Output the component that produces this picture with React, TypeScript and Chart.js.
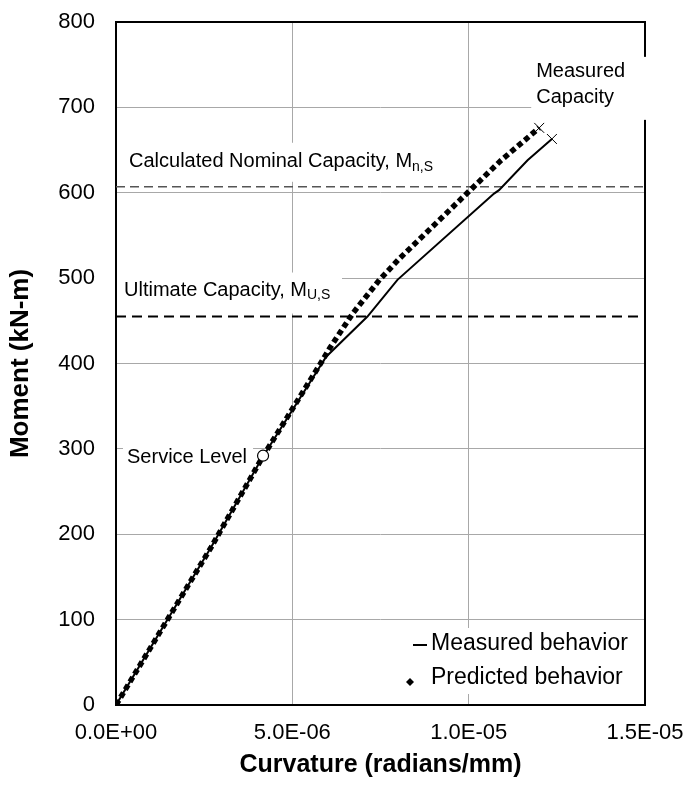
import React, { useEffect, useRef } from 'react';
import { Chart, registerables } from 'chart.js';

Chart.register(...registerables);

const FONT = '"Liberation Sans", Arial, Helvetica, sans-serif';

// ---- data ----
const measuredCurvature = [0, 2.7e-6, 4.15e-6, 5.96e-6, 7.13e-6, 7.98e-6, 10.72e-6, 10.86e-6, 11.67e-6, 12.36e-6];
const measuredMoment = [0, 185, 290, 408, 455, 498, 599, 603, 638, 663];

const predictedCurvature = [0, 2.7e-6, 4.15e-6, 5.77e-6, 6.06e-6, 6.72e-6, 7.47e-6, 8.04e-6, 10.92e-6, 12.0e-6];
const predictedMoment = [0, 185, 290, 398, 418, 459, 498, 523, 638, 676];

const capacityCurvature = [12.0e-6, 12.36e-6];
const capacityMoment = [676, 663];

const serviceCurvature = [4.17e-6];
const serviceMoment = [292];

const nominalCapacity = 607;
const ultimateCapacity = 455;

const xTicks = [0, 5e-6, 1e-5, 1.5e-5];
const xTickLabels = ['0.0E+00', '5.0E-06', '1.0E-05', '1.5E-05'];
const yTicks = [0, 100, 200, 300, 400, 500, 600, 700, 800];

const xTitle = 'Curvature (radians/mm)';
const yTitle = 'Moment (kN-m)';

const pts = (xs: number[], ys: number[]) => xs.map((v, i) => ({ x: v, y: ys[i] }));

function drawLabel(ctx: CanvasRenderingContext2D, parts: [string, string, string], x: number, yMid: number, size: number) {
  ctx.font = `${size}px ${FONT}`;
  ctx.textBaseline = 'middle';
  ctx.textAlign = 'left';
  ctx.fillStyle = '#000';
  ctx.fillText(parts[0] + parts[1], x, yMid);
  let w = ctx.measureText(parts[0] + parts[1]).width;
  if (parts[2]) {
    ctx.font = `${Math.round(size * 0.7)}px ${FONT}`;
    ctx.fillText(parts[2], x + w, yMid + 5);
    w += ctx.measureText(parts[2]).width;
  }
  return w;
}

const overlayPlugin = {
  id: 'overlay',
  beforeDatasetsDraw(chart: any) {
    const { ctx, chartArea: a, scales } = chart;
    const xs = scales.x;
    const ys = scales.y;
    ctx.save();
    // frame
    ctx.strokeStyle = '#000';
    ctx.lineWidth = 2;
    ctx.strokeRect(a.left, a.top, a.right - a.left, a.bottom - a.top);

    const size = 20;
    ctx.font = `${size}px ${FONT}`;

    // Calculated nominal capacity label
    {
      const yMid = ys.getPixelForValue(nominalCapacity) - 25;
      const x0 = a.left + 13;
      ctx.font = `${size}px ${FONT}`;
      const w = ctx.measureText('Calculated Nominal Capacity, M').width + 26;
      ctx.fillStyle = '#fff';
      ctx.fillRect(x0 - 6, yMid - 19, w + 12, 39);
      drawLabel(ctx, ['Calculated Nominal Capacity, ', 'M', 'n,S'], x0, yMid, size);
    }
    // Ultimate capacity label
    {
      const yMid = ys.getPixelForValue(ultimateCapacity) - 26;
      const x0 = a.left + 8;
      ctx.font = `${size}px ${FONT}`;
      const w = ctx.measureText('Ultimate Capacity, M').width + 28;
      ctx.fillStyle = '#fff';
      ctx.fillRect(a.left + 1, yMid - 18, x0 - a.left + w + 6, 41);
      drawLabel(ctx, ['Ultimate Capacity, ', 'M', 'U,S'], x0, yMid, size);
    }
    // Service level label
    {
      const cx = xs.getPixelForValue(serviceCurvature[0]);
      const cy = ys.getPixelForValue(serviceMoment[0]);
      ctx.font = `${size}px ${FONT}`;
      const t = 'Service Level';
      const w = ctx.measureText(t).width;
      const x0 = cx - 16 - w;
      ctx.fillStyle = '#fff';
      ctx.fillRect(x0 - 4, cy - 14, w + 10, 32);
      ctx.fillStyle = '#000';
      ctx.textBaseline = 'middle';
      ctx.fillText(t, x0, cy + 2);
    }
    // Measured capacity label
    {
      const mx = xs.getPixelForValue(capacityCurvature[0]);
      const my = ys.getPixelForValue(capacityMoment[0]);
      ctx.fillStyle = '#fff';
      ctx.fillRect(mx - 8, my - 71, 130, 63);
      ctx.fillStyle = '#000';
      ctx.font = `${size}px ${FONT}`;
      ctx.textBaseline = 'middle';
      ctx.fillText('Measured', mx - 3, my - 56);
      ctx.fillText('Capacity', mx - 3, my - 30);
    }
    ctx.restore();
  },
  afterDraw(chart: any) {
    const { ctx, chartArea: a } = chart;
    const ds = chart.data.datasets;
    ctx.save();
    const right = a.right - 3;
    const bottom = a.bottom - 11;
    ctx.fillStyle = '#fff';
    ctx.fillRect(right - 236, bottom - 66, 236, 66);
    const size = 23;
    ctx.font = `${size}px ${FONT}`;
    ctx.textBaseline = 'middle';
    ctx.fillStyle = '#000';
    const tx = right - 211;
    const y1 = bottom - 50;
    const y2 = bottom - 16;
    // measured line sample
    ctx.strokeStyle = '#000';
    ctx.lineWidth = 2;
    ctx.beginPath();
    ctx.moveTo(tx - 18, y1 + 1);
    ctx.lineTo(tx - 4, y1 + 1);
    ctx.stroke();
    ctx.fillText(ds[2].label, tx, y1);
    // predicted diamond
    const dx = tx - 21;
    const dy = y2 + 4;
    ctx.beginPath();
    ctx.moveTo(dx, dy - 4);
    ctx.lineTo(dx + 4, dy);
    ctx.lineTo(dx, dy + 4);
    ctx.lineTo(dx - 4, dy);
    ctx.closePath();
    ctx.fill();
    ctx.fillText(ds[3].label, tx, y2);
    ctx.restore();
  },
};

export default function App() {
  const ref = useRef<HTMLCanvasElement | null>(null);
  useEffect(() => {
    if (!ref.current) return;
    const chart = new Chart(ref.current, {
      type: 'line',
      data: {
        datasets: [
          {
            label: 'Service Level',
            data: pts(serviceCurvature, serviceMoment),
            showLine: false,
            pointStyle: 'circle',
            pointRadius: 5.5,
            pointBackgroundColor: '#fff',
            pointBorderColor: '#000',
            pointBorderWidth: 1.2,
          },
          {
            label: 'Measured Capacity',
            data: pts(capacityCurvature, capacityMoment),
            showLine: false,
            pointStyle: 'crossRot',
            pointRadius: 7,
            pointBorderColor: '#000',
            pointBorderWidth: 1,
          },
          {
            label: 'Measured behavior',
            data: pts(measuredCurvature, measuredMoment),
            borderColor: '#000',
            borderWidth: 2,
            pointRadius: 0,
            tension: 0,
          },
          {
            label: 'Predicted behavior',
            data: pts(predictedCurvature, predictedMoment),
            borderColor: '#000',
            borderWidth: 5.5,
            borderDash: [5.5, 3.5],
            borderCapStyle: 'butt',
            pointRadius: 0,
            tension: 0,
          },
          {
            label: 'Calculated Nominal Capacity',
            data: [
              { x: xTicks[0], y: nominalCapacity },
              { x: xTicks[xTicks.length - 1], y: nominalCapacity },
            ],
            borderColor: '#555',
            borderWidth: 1.5,
            borderDash: [9, 5],
            pointRadius: 0,
          },
          {
            label: 'Ultimate Capacity',
            data: [
              { x: xTicks[0], y: ultimateCapacity },
              { x: xTicks[xTicks.length - 1], y: ultimateCapacity },
            ],
            borderColor: '#000',
            borderWidth: 2,
            borderDash: [10, 6],
            pointRadius: 0,
          },
        ],
      },
      options: {
        animation: false,
        responsive: false,
        devicePixelRatio: 1,
        layout: { padding: { top: 22, right: 44, left: 0, bottom: 0 } },
        plugins: { legend: { display: false }, tooltip: { enabled: false } },
        scales: {
          x: {
            type: 'linear',
            min: xTicks[0],
            max: xTicks[xTicks.length - 1],
            afterBuildTicks: (s: any) => {
              s.ticks = xTicks.map((v) => ({ value: v }));
            },
            afterFit: (s: any) => {
              s.height = 91;
              s.paddingLeft = 0;
              s.paddingRight = 0;
            },
            grid: { color: '#a8a8a8', lineWidth: 1, drawTicks: false },
            border: { display: false },
            ticks: {
              padding: 15,
              color: '#000',
              font: { family: FONT, size: 22 },
              maxRotation: 0,
              callback: (_v: any, i: number) => xTickLabels[i],
            },
            title: {
              display: true,
              text: xTitle,
              color: '#000',
              font: { family: FONT, size: 25, weight: 'bold' },
              padding: { top: 0, bottom: 16 },
            },
          },
          y: {
            type: 'linear',
            min: yTicks[0],
            max: yTicks[yTicks.length - 1],
            afterBuildTicks: (s: any) => {
              s.ticks = yTicks.map((v) => ({ value: v }));
            },
            afterFit: (s: any) => {
              s.width = 116;
              s.paddingTop = 0;
              s.paddingBottom = 0;
            },
            grid: { color: '#a8a8a8', lineWidth: 1, drawTicks: false },
            border: { display: false },
            ticks: {
              padding: 21,
              color: '#000',
              font: { family: FONT, size: 22 },
              callback: (v: any) => String(v),
            },
            title: {
              display: true,
              text: yTitle,
              color: '#000',
              font: { family: FONT, size: 26, weight: 'bold' },
              padding: { top: 5, bottom: 0 },
            },
          },
        },
      },
      plugins: [overlayPlugin],
    } as any);
    return () => chart.destroy();
  }, []);
  return (
    <div style={{ position: 'absolute', left: 0, top: 0, width: 689, height: 796, background: '#fff' }}>
      <canvas ref={ref} width={689} height={796} style={{ display: 'block' }} />
    </div>
  );
}
